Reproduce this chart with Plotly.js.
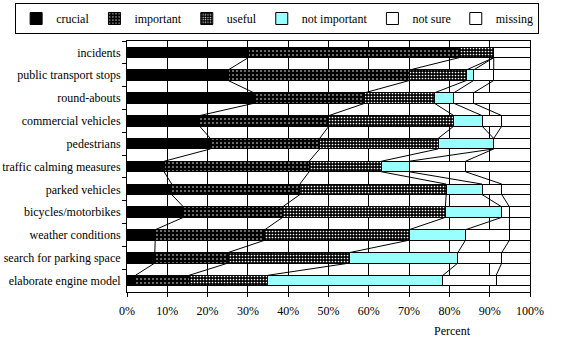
<!DOCTYPE html>
<html><head><meta charset="utf-8">
<script src="https://cdn.plot.ly/plotly-3.0.1.min.js"></script>
<style>html,body{margin:0;padding:0;background:#fff}#chart{width:564px;height:354px}</style>
</head><body><div id="chart"></div>
<script>
const categories = ['incidents','public transport stops','round-abouts','commercial vehicles','pedestrians','traffic calming measures','parked vehicles','bicycles/motorbikes','weather conditions','search for parking space','elaborate engine model'];
const seriesNames = ['crucial','important','useful','not important','not sure','missing'];
const crucial      = [30.1, 25.1, 31.5, 18.0, 20.7,  9.2, 11.1, 14.0,  7.0,  6.9,  2.1];
const important    = [52.3, 45.0, 27.5, 32.1, 27.1, 36.0, 31.8, 24.6, 27.2, 18.2, 13.3];
const useful       = [ 8.6, 14.1, 17.3, 31.0, 29.4, 17.9, 36.3, 40.4, 35.8, 30.2, 19.5];
const notImportant = [ 0.0,  1.8,  4.8,  7.0, 13.8,  6.9,  8.9, 14.0, 14.0, 26.8, 43.5];
const notSure      = [ 0.0,  5.0,  4.9,  4.9,  0.0, 14.0,  4.9,  1.9, 10.9, 10.9, 13.2];
const missing      = [ 9.0,  9.0, 14.0,  7.0,  9.0, 16.0,  7.0,  5.1,  5.1,  7.0,  8.4];
const xTickVals = [0,10,20,30,40,50,60,70,80,90,100];
const xTickText = ['0%','10%','20%','30%','40%','50%','60%','70%','80%','90%','100%'];

const FONT = 'Liberation Serif';
const series = [crucial, important, useful, notImportant, notSure, missing];
const styles = [
  {color:'#000000'},
  {color:'#000000', pattern:{shape:'.', bgcolor:'#000000', fgcolor:'#ffffff', size:4, solidity:0.12, fillmode:'replace'}},
  {color:'#000000', pattern:{shape:'.', bgcolor:'#000000', fgcolor:'#ffffff', size:3, solidity:0.25, fillmode:'replace'}},
  {color:'#99ffff'},
  {color:'#ffffff'},
  {color:'#ffffff'}
];
const traces = [];
series.forEach((vals, k) => {
  traces.push({
    type:'bar', orientation:'h', name: seriesNames[k],
    y: categories, x: vals, xaxis:'x', yaxis:'y',
    marker: Object.assign({line:{color:'#000000', width:1}}, styles[k]),
    hoverinfo:'name+x'
  });
});
// series lines between adjacent bars
const bargap = 0.54, hw = (1 - bargap) / 2;
const cum = [];
for (let k = 0; k < series.length; k++) {
  cum.push(categories.map((c, i) => {
    let s = 0; for (let j = 0; j <= k; j++) s += series[j][i]; return s;
  }));
}
for (let k = 0; k < series.length - 1; k++) {
  const lx = [], ly = [];
  for (let i = 0; i < categories.length - 1; i++) {
    lx.push(cum[k][i], cum[k][i+1], null);
    ly.push(i + hw, i + 1 - hw, null);
  }
  traces.push({type:'scatter', mode:'lines', x: lx, y: ly, xaxis:'x', yaxis:'y2',
    line:{color:'#000000', width:1}, showlegend:false, hoverinfo:'skip'});
}
const L = 127, R = 33.5, T = 41, B = 62;
const W = 564, H = 354, pw = W - L - R, ph = H - T - B;
const layout = {
  width: W, height: H,
  margin:{l:L, r:R, t:T, b:B, pad:0, autoexpand:false},
  paper_bgcolor:'#ffffff', plot_bgcolor:'#ffffff',
  font:{family:FONT, size:12, color:'#000000'},
  barmode:'stack', bargap: bargap,
  showlegend:true,
  legend:{orientation:'h', x:(15 - L)/pw, xanchor:'left', y:(H - B - 3)/ph, yanchor:'top',
    bordercolor:'#000000', borderwidth:1, bgcolor:'#ffffff',
    font:{family:FONT, size:12, color:'#000000'}, traceorder:'normal', itemwidth:30},
  xaxis:{range:[0,100], tickvals:xTickVals, ticktext:xTickText, showgrid:true, gridcolor:'#000000', gridwidth:1,
    showline:true, linecolor:'#000000', linewidth:1, mirror:true, ticks:'outside', ticklen:4, tickcolor:'#000000',
    zeroline:false, fixedrange:true, tickfont:{family:FONT, size:12}, ticklabelstandoff:4},
  yaxis:{type:'category', categoryorder:'array', categoryarray:categories, range:[10.5,-0.5], autorange:false,
    tickson:'boundaries', ticks:'outside', ticklen:4, tickcolor:'#000000', showgrid:false,
    showline:true, linecolor:'#000000', linewidth:1, mirror:true, fixedrange:true,
    tickfont:{family:FONT, size:12}, ticklabelstandoff:3},
  yaxis2:{overlaying:'y', range:[10.5,-0.5], autorange:false, visible:false, fixedrange:true},
  annotations:[{text:'Percent', xref:'paper', yref:'paper', x:(453 - L)/pw, y:-(331 - (H - B))/ph,
    xanchor:'center', yanchor:'middle', showarrow:false, font:{family:FONT, size:12, color:'#000000'}}]
};
Plotly.newPlot('chart', traces, layout, {displayModeBar:false, staticPlot:true});
</script></body></html>
